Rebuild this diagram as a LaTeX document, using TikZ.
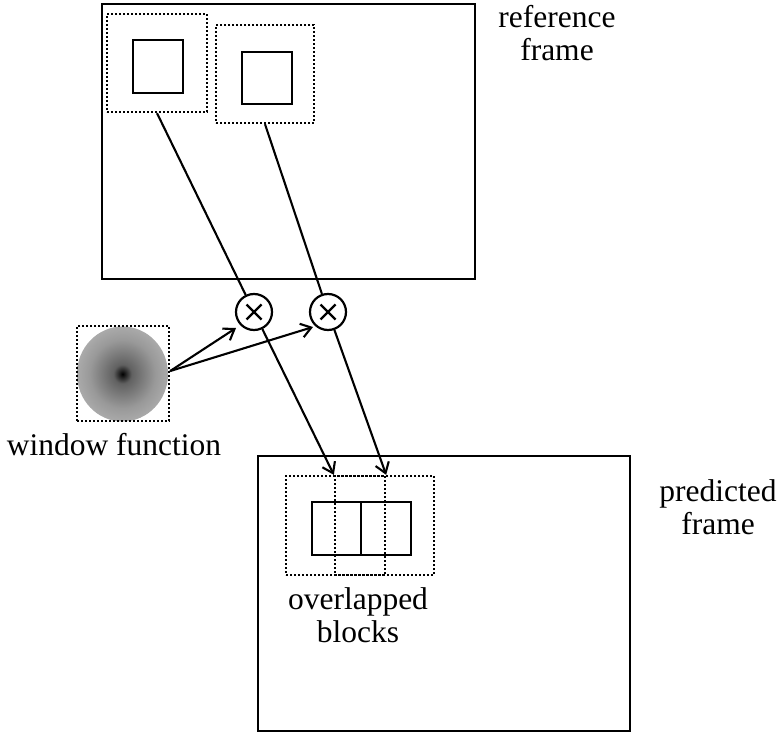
\documentclass[tikz,border=0pt]{standalone}
\usepackage{fontspec}
\setmainfont{Liberation Serif}
\usetikzlibrary{arrows.meta,calc}
\pgfdeclareradialshading{winshade}{\pgfpoint{0bp}{0bp}}{color(0bp)=(black); color(5bp)=(black!62); color(18bp)=(black!40); color(35bp)=(black!24); color(50bp)=(black!13)}
\begin{document}
\begin{tikzpicture}[x=1pt,y=-1pt,
  framebox/.style={draw,line width=2.4,inner sep=0,minimum width=#1},
  dotbox/.style={draw,line width=2.3,dash pattern=on 2 off 2,inner sep=0},
  solidbox/.style={draw,line width=2.3,inner sep=0},
  mult/.style={draw,circle,line width=2.2,inner sep=0,minimum size=36,
    path picture={\draw[line width=2.2] (path picture bounding box.center) +(-7.5,-7.5) -- +(7.5,7.5) (path picture bounding box.center) +(-7.5,7.5) -- +(7.5,-7.5);}},
  conn/.style={line width=2.1},
  arr/.style={line width=2.1,-{Straight Barb[length=10,width=14,line width=2.1]}},
  lbl/.style={font=\fontsize{31.5}{33}\selectfont,align=center,inner sep=0,anchor=base}]
\useasboundingbox (0,0) rectangle (779,733);
% reference frame
\node[framebox=373,minimum height=275] (ref) at (288.5,141.5) {};
\node[dotbox,minimum width=100,minimum height=98] (d1) at (157,63) {};
\node[solidbox,minimum width=50,minimum height=53] (s1) at (158,66.5) {};
\node[dotbox,minimum width=98,minimum height=98] (d2) at (265,74) {};
\node[solidbox,minimum width=50,minimum height=52] (s2) at (267,78) {};
% multipliers
\node[mult] (c1) at (254,312) {};
\node[mult] (c2) at (328,312) {};
% window function
\shade[shading=winshade] (122.5,374) ellipse [x radius=45.5,y radius=47.5];
\node[dotbox,minimum width=92,minimum height=95] (win) at (123,373.5) {};
% predicted frame
\node[framebox=372,minimum height=275] (pred) at (444,593.5) {};
\node[dotbox,minimum width=99,minimum height=99] (ba) at (335.5,525.5) {};
\node[dotbox,minimum width=99,minimum height=99] (bb) at (384.5,525.5) {};
\node[solidbox,minimum width=49,minimum height=53] (r1) at (336.5,528.5) {};
\node[solidbox,minimum width=50,minimum height=53] (r2) at (386,528.5) {};
% connectors
\draw[conn] (d1.south) -- (c1);
\draw[conn] (d2.south) -- (c2);
\draw[arr] (c1) -- (bb.north west);
\draw[arr] (c2) -- (ba.north east);
\draw[arr] (win.3) -- ($(c1)+(-18,16)$) coordinate (t1);
\draw[arr] (win.3) -- ($(c2)+(-15,15)$) coordinate (t2);
% labels
\node[lbl] (lref) at (557,61) {reference\\frame};
\node[lbl] (lpred) at (718,534) {predicted\\frame};
\node[lbl] (lwin) at (114,455) {window function};
\node[lbl] (lov) at (358,642) {overlapped\\blocks};
\end{tikzpicture}
\end{document}
